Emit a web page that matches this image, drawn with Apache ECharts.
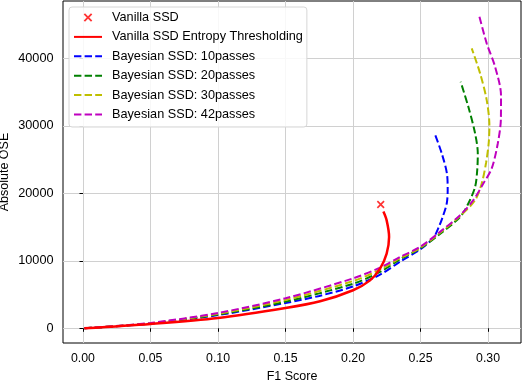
<!DOCTYPE html>
<html>
<head>
<meta charset="utf-8">
<script src="https://cdn.jsdelivr.net/npm/echarts@6/dist/echarts.min.js"></script>
<style>
  html, body { margin: 0; padding: 0; background: #fff; }
  #chart { width: 524px; height: 382px; }
</style>
</head>
<body>
<div id="chart"></div>
<script>
// tick values
var xTicks = [0, 0.05, 0.10, 0.15, 0.20, 0.25, 0.30];
var yTicks = [0, 10000, 20000, 30000, 40000];

// Vanilla SSD single point [F1, OSE]
var vanillaPoint = [[0.2205, 18350]];

// Vanilla SSD entropy thresholding curve
var vanillaEntropy = [
  [0.001, 0], [0.05, 650], [0.10, 1530], [0.15, 3000], [0.1756, 4000],
  [0.20, 5640], [0.2126, 7100], [0.22, 8850], [0.2249, 11080],
  [0.2267, 13550], [0.2249, 16000], [0.2225, 17300]
];

// Bayesian SSD curves
var bayes10 = [
  [0.001, 0], [0.05, 680], [0.10, 1950], [0.15, 3750], [0.175, 4800],
  [0.20, 6200], [0.22, 7950], [0.235, 9900], [0.2505, 11800],
  [0.2595, 13400], [0.2635, 15000], [0.2664, 16510], [0.2694, 18500],
  [0.2701, 20470], [0.2697, 22700], [0.2657, 25920], [0.2602, 29000]
];
var bayes20 = [
  [0.001, 0], [0.05, 720], [0.10, 2050], [0.15, 3950], [0.20, 6600],
  [0.22, 8350], [0.235, 10250], [0.25, 11850], [0.2644, 14000],
  [0.2793, 16500], [0.2854, 18500], [0.2904, 20960], [0.292, 23500],
  [0.2924, 25900], [0.2904, 28890], [0.2854, 32830], [0.2797, 36540]
];
var bayes30 = [
  [0.001, 0], [0.05, 760], [0.10, 2150], [0.15, 4200], [0.20, 7000],
  [0.22, 8700], [0.235, 10400], [0.25, 11950], [0.2644, 14150],
  [0.2793, 16650], [0.2904, 18990], [0.2953, 21470], [0.2985, 24500],
  [0.3005, 27500], [0.301, 30000], [0.299, 33830], [0.2941, 37790],
  [0.2879, 41500]
];
var bayes42 = [
  [0.001, 0], [0.05, 800], [0.10, 2280], [0.15, 4450], [0.20, 7400],
  [0.22, 9000], [0.235, 10580], [0.2496, 12060], [0.2644, 14290],
  [0.2793, 16770], [0.2891, 18990], [0.2965, 21470], [0.3027, 23700],
  [0.3072, 27400], [0.3095, 31000], [0.3096, 34500], [0.3052, 38770],
  [0.299, 42240], [0.2936, 46190]
];

var FONT = 'Liberation Sans';
// thick "x" marker, with padding moves so the legend icon comes out smaller
var crossPath = 'path://M-2,-2 M12,12 M0,1.5 L1.5,0 L5,3.5 L8.5,0 L10,1.5 L6.5,5 L10,8.5 L8.5,10 L5,6.5 L1.5,10 L0,8.5 L3.5,5 Z';

function dashed(name, data, color){
  return {
    name: name,
    type: 'line',
    data: data,
    symbol: 'none',
    smooth: 0.3,
    lineStyle: { color: color, width: 2, type: [7.4, 3.2] },
    itemStyle: { color: color },
    z: 3
  };
}

var names = ['Vanilla SSD', 'Vanilla SSD Entropy Thresholding',
  'Bayesian SSD: 10passes', 'Bayesian SSD: 20passes',
  'Bayesian SSD: 30passes', 'Bayesian SSD: 42passes'];

var legendData = names.map(function(n, i){
  return i === 0 ? { name: n } : { name: n, itemStyle: { opacity: 0 } };
});

var chart = echarts.init(document.getElementById('chart'));
chart.setOption({
  animation: false,
  textStyle: { fontFamily: FONT },
  grid: {
    left: 63, right: 3, top: 1, bottom: 39,
    outerBoundsMode: 'none',
    containLabel: false,
    show: true, borderColor: '#000', borderWidth: 1
  },
  legend: {
    orient: 'vertical',
    left: 69, top: 7,
    padding: [4, 4, 6, 4],
    itemWidth: 28, itemHeight: 12, itemGap: 6.4,
    backgroundColor: 'rgba(255,255,255,0.85)',
    borderColor: '#d6d6d6', borderWidth: 1, borderRadius: 3,
    textStyle: { fontFamily: FONT, fontSize: 12.7, color: '#000', padding: [0, 0, 0, 5] },
    data: legendData
  },
  xAxis: {
    type: 'value',
    min: -0.0148, max: 0.3244,
    name: 'F1 Score', nameLocation: 'middle', nameGap: 27,
    nameMoveOverlap: false,
    nameTextStyle: { fontFamily: FONT, fontSize: 12.5, color: '#000' },
    axisLine: { show: false },
    axisTick: { show: true, length: 3.5, customValues: xTicks, lineStyle: { color: '#000' } },
    axisLabel: {
      customValues: xTicks, margin: 10,
      fontFamily: FONT, fontSize: 12.3, color: '#000',
      formatter: function(v){ return v.toFixed(2); }
    },
    splitLine: { show: true, lineStyle: { color: '#d0d0d0', width: 1 } }
  },
  yAxis: {
    type: 'value',
    min: -2181, max: 48516,
    name: 'Absolute OSE', nameLocation: 'middle', nameGap: 52,
    nameMoveOverlap: false,
    nameTextStyle: { fontFamily: FONT, fontSize: 12.5, color: '#000' },
    axisLine: { show: false },
    axisTick: { show: true, length: 3.5, customValues: yTicks, lineStyle: { color: '#000' } },
    axisLabel: {
      customValues: yTicks, margin: 9.5,
      fontFamily: FONT, fontSize: 12.7, color: '#000',
      formatter: function(v){ return String(Math.round(v)); }
    },
    splitLine: { show: true, lineStyle: { color: '#d0d0d0', width: 1 } }
  },
  series: [
    {
      name: 'Vanilla SSD',
      type: 'scatter',
      data: vanillaPoint,
      symbol: crossPath,
      symbolSize: 11,
      itemStyle: { color: '#ff0000' },
      z: 5
    },
    {
      name: 'Vanilla SSD Entropy Thresholding',
      type: 'line',
      data: vanillaEntropy,
      symbol: 'none',
      smooth: 0.3,
      lineStyle: { color: '#ff0000', width: 2.5 },
      itemStyle: { color: '#ff0000' },
      z: 4
    },
    dashed('Bayesian SSD: 10passes', bayes10, '#0000ff'),
    dashed('Bayesian SSD: 20passes', bayes20, '#008000'),
    dashed('Bayesian SSD: 30passes', bayes30, '#bfbf00'),
    dashed('Bayesian SSD: 42passes', bayes42, '#bf00bf')
  ]
});
</script>
</body>
</html>
